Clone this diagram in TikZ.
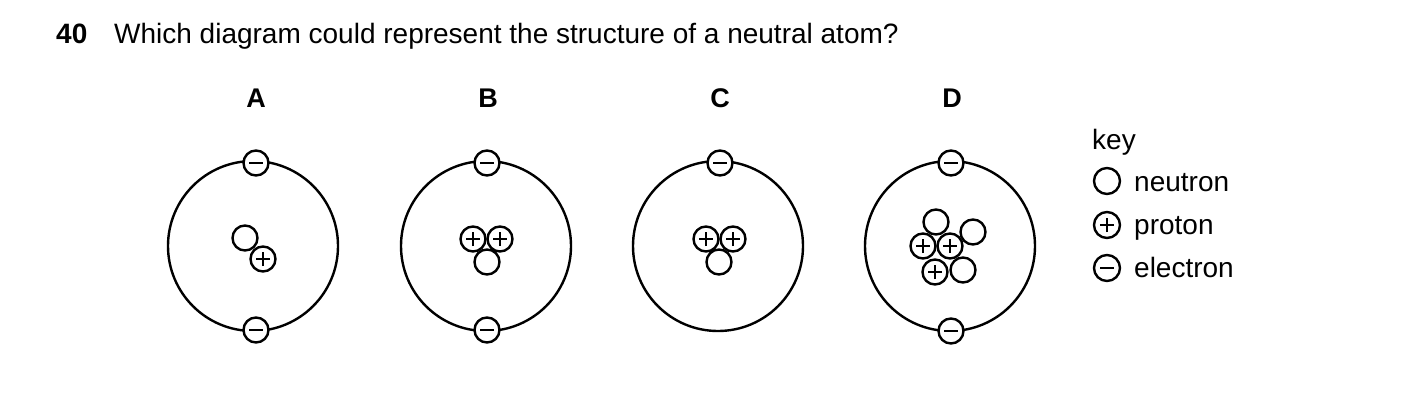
\documentclass[tikz,border=0pt]{standalone}
\usepackage{fontspec}
\setmainfont{Liberation Sans}
\begin{document}
\begin{tikzpicture}[x=1pt,y=-1pt,line width=2.4pt,
  orbit/.style={draw,circle,minimum size=170pt,inner sep=0pt},
  part/.style={draw,circle,fill=white,minimum size=25pt,inner sep=0pt},
  neu/.style={part},
  pro/.style={part,path picture={\draw[line width=1.8pt] ([xshift=-7pt]path picture bounding box.center)--++(14pt,0) ([yshift=-7pt]path picture bounding box.center)--++(0,14pt);}},
  ele/.style={part,path picture={\draw[line width=1.8pt] ([xshift=-7pt]path picture bounding box.center)--++(14pt,0);}},
  txt/.style={font=\fontsize{28}{32}\selectfont,anchor=base west,inner sep=0pt},
  lab/.style={font=\bfseries\fontsize{27}{32}\selectfont,anchor=base,inner sep=0pt}]
\useasboundingbox (0,0) rectangle (1403,408);
\node[txt,font=\bfseries\fontsize{28}{32}\selectfont] (num) at (55,43) {40};
\node[txt] (q) at (113,43) {Which diagram could represent the structure of a neutral atom?};
\node[lab] (lA) at (256,107) {A};
\node[lab] (lB) at (488,107) {B};
\node[lab] (lC) at (720,107) {C};
\node[lab] (lD) at (952,107) {D};
% A
\node[orbit] (oA) at (253,246) {};
\node[ele] (eA1) at (256,163) {};
\node[ele] (eA2) at (256,330) {};
\node[neu] (nA) at (245,238) {};
\node[pro] (pA) at (263,259) {};
% B
\node[orbit] (oB) at (486,246) {};
\node[ele] (eB1) at (487,163) {};
\node[ele] (eB2) at (487,330) {};
\node[neu] (nB) at (487,262) {};
\node[pro] (pB1) at (473,239) {};
\node[pro] (pB2) at (500,239) {};
% C
\node[orbit] (oC) at (718,246) {};
\node[ele] (eC1) at (720,163) {};
\node[neu] (nC) at (719,262) {};
\node[pro] (pC1) at (706,239) {};
\node[pro] (pC2) at (733,239) {};
% D
\node[orbit] (oD) at (950,246) {};
\node[ele] (eD1) at (951,163) {};
\node[ele] (eD2) at (951,331) {};
\node[neu] (nD1) at (936,222) {};
\node[neu] (nD2) at (973,232) {};
\node[neu] (nD3) at (963,270) {};
\node[pro] (pD1) at (923,246) {};
\node[pro] (pD2) at (950,246) {};
\node[pro] (pD3) at (935,272) {};
% key
\node[txt] (key) at (1091,149) {key};
\node[neu,minimum size=26pt] (kn) at (1107,181) {};
\node[pro,minimum size=26pt] (kp) at (1107,225) {};
\node[ele,minimum size=26pt] (ke) at (1107,268) {};
\node[txt] (tn) at (1133,191) {neutron};
\node[txt] (tp) at (1133,234) {proton};
\node[txt] (te) at (1133,277) {electron};
\end{tikzpicture}
\end{document}
